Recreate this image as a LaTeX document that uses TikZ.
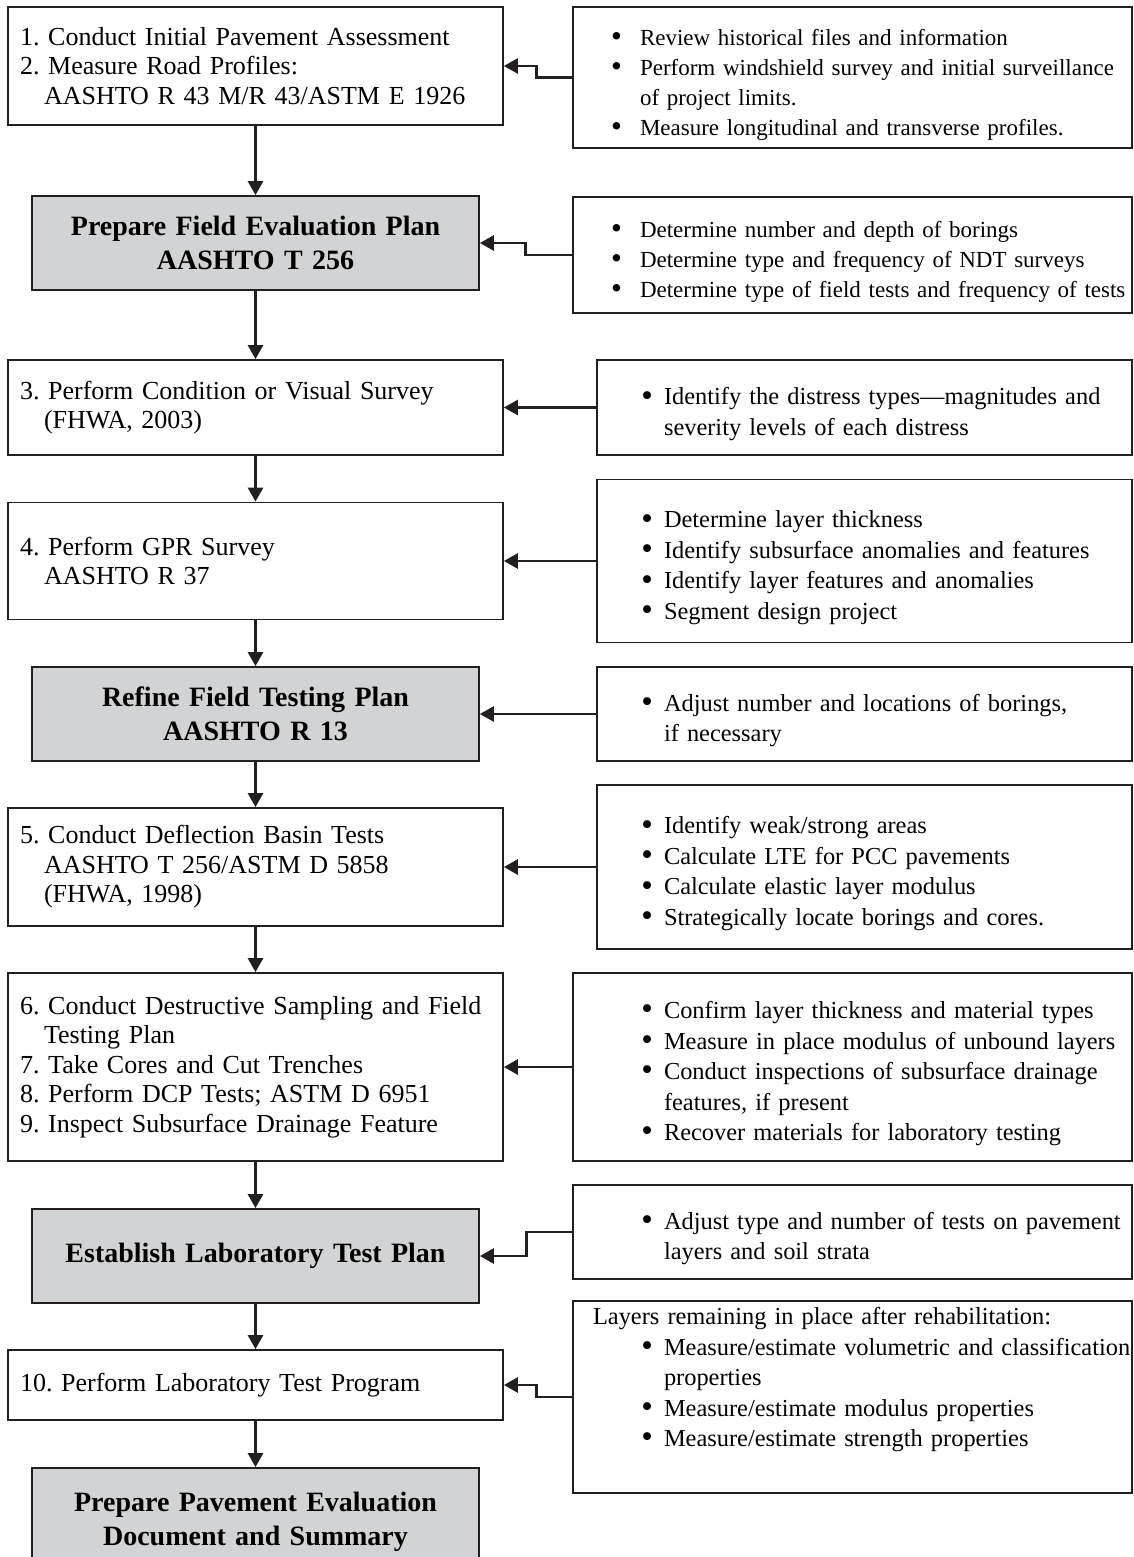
\documentclass[tikz,border=0pt]{standalone}
\usepackage{fontspec}
\usepackage{graphicx}
\setmainfont{Liberation Serif}
\usetikzlibrary{arrows.meta}
\definecolor{ink}{RGB}{35,31,32}
\definecolor{shade}{RGB}{209,211,212}
\frenchspacing

% bullet lists inside the note boxes
\newcommand{\notes}[1]{\leftskip=#1\rightskip=-16pt plus 1fil\relax}
\newcommand{\pnt}[1][5.5pt]{\par\noindent\llap{\raisebox{-0.6pt}{\scalebox{1.35}{\textbullet}}\hspace{#1}}}

\begin{document}
\begin{tikzpicture}[x=0.5pt, y=-0.5pt,
    stepbox/.style={draw=ink, line width=0.9pt, minimum width=247.5pt, text width=235.5pt, inner xsep=6pt, align=left, font=\fontsize{13pt}{14.75pt}\selectfont},
    planbox/.style={draw=ink, line width=0.9pt, fill=shade, minimum width=223.5pt, text width=211.5pt, inner xsep=6pt, align=center, font=\fontsize{14pt}{17pt}\selectfont\bfseries},
    notebox/.style={draw=ink, line width=0.9pt, inner xsep=0pt, align=left, font=\fontsize{12.2pt}{15.25pt}\selectfont},
    smallnote/.style={font=\fontsize{11.5pt}{15pt}\selectfont},
    wide/.style={minimum width=279.5pt, text width=279.5pt},
    narrow/.style={minimum width=267.5pt, text width=267.5pt},
    flow/.style={draw=ink, line width=1.4pt, -{Triangle[length=7pt,width=7.5pt]}}
  ]
  \useasboundingbox (0,0) rectangle (1134,1557);

  % Steps (left column)
  \node[stepbox, minimum height=59pt] (assess) at (255.5,66) {1. Conduct Initial Pavement Assessment\\2. Measure Road Profiles:\\\hspace*{12pt}AASHTO R 43 M/R 43/ASTM E 1926};
  \node[planbox, minimum height=47pt] (evalplan) at (255.5,243) {Prepare Field Evaluation Plan\\AASHTO T 256};
  \node[stepbox, minimum height=47.5pt] (visual) at (255.5,407.5) {3. Perform Condition or Visual Survey\\\hspace*{12pt}(FHWA, 2003)};
  \node[stepbox, minimum height=58.5pt] (gpr) at (255.5,561) {4. Perform GPR Survey\\\hspace*{12pt}AASHTO R 37};
  \node[planbox, minimum height=47pt] (refine) at (255.5,714) {Refine Field Testing Plan\\AASHTO R 13};
  \node[stepbox, minimum height=59pt] (deflect) at (255.5,867) {5. Conduct Deflection Basin Tests\\\hspace*{12pt}AASHTO T 256/ASTM D 5858\\\hspace*{12pt}(FHWA, 1998)};
  \node[stepbox, minimum height=94pt] (sampling) at (255.5,1067) {6. Conduct Destructive Sampling and Field\\\hspace*{12pt}Testing Plan\\7. Take Cores and Cut Trenches\\8. Perform DCP Tests; ASTM D 6951\\9. Inspect Subsurface Drainage Feature};
  \node[planbox, minimum height=47pt] (labplan) at (255.5,1256) {Establish Laboratory Test Plan};
  \node[stepbox, minimum height=35pt] (labtest) at (255.5,1385) {10. Perform Laboratory Test Program};
  \node[planbox, minimum height=54pt] (summary) at (255.5,1522) {Prepare Pavement Evaluation\\Document and Summary};

  % Notes (right column)
  \node[notebox, smallnote, wide, minimum height=70.5pt] (assessnote) at (852.5,77.5) {\notes{33.5pt}%
    \pnt[9pt]Review historical files and information
    \pnt[9pt]Perform windshield survey and initial surveillance\\of project limits.
    \pnt[9pt]Measure longitudinal and transverse profiles.\par};
  \node[notebox, smallnote, wide, minimum height=58pt] (evalnote) at (852.5,255) {\notes{33.5pt}%
    \pnt[9pt]Determine number and depth of borings
    \pnt[9pt]Determine type and frequency of NDT surveys
    \pnt[9pt]Determine type of field tests and frequency of tests\par};
  \node[notebox, narrow, minimum height=47.5pt] (visualnote) at (864.5,407.5) {\notes{33.5pt}%
    \pnt Identify the distress types---magnitudes and\\severity levels of each distress\par};
  \node[notebox, narrow, minimum height=81.5pt] (gprnote) at (864.5,561) {\notes{33.5pt}%
    \pnt Determine layer thickness
    \pnt Identify subsurface anomalies and features
    \pnt Identify layer features and anomalies
    \pnt Segment design project\par};
  \node[notebox, narrow, minimum height=47pt] (refinenote) at (864.5,714) {\notes{33.5pt}%
    \pnt Adjust number and locations of borings,\\if necessary\par};
  \node[notebox, narrow, minimum height=82pt] (deflectnote) at (864.5,867) {\notes{33.5pt}%
    \pnt Identify weak/strong areas
    \pnt Calculate LTE for PCC pavements
    \pnt Calculate elastic layer modulus
    \pnt Strategically locate borings and cores.\par};
  \node[notebox, wide, minimum height=94pt] (samplingnote) at (852.5,1067) {\notes{45.5pt}%
    \pnt Confirm layer thickness and material types
    \pnt Measure in place modulus of unbound layers
    \pnt Conduct inspections of subsurface drainage\\features, if present
    \pnt Recover materials for laboratory testing\par};
  \node[notebox, wide, minimum height=47pt] (labplannote) at (852.5,1232) {\notes{45.5pt}%
    \pnt Adjust type and number of tests on pavement\\layers and soil strata\par};
  \node[notebox, wide, minimum height=94pt] (labtestnote) at (852.5,1397) {\notes{10pt}%
    Layers remaining in place after rehabilitation:\par\notes{45.5pt}%
    \pnt Measure/estimate volumetric and classification\\properties
    \pnt Measure/estimate modulus properties
    \pnt Measure/estimate strength properties\par\strut\par};

  % Main flow
  \draw[flow] (assess) -- (evalplan);
  \draw[flow] (evalplan) -- (visual);
  \draw[flow] (visual) -- (gpr);
  \draw[flow] (gpr) -- (refine);
  \draw[flow] (refine) -- (deflect);
  \draw[flow] (deflect) -- (sampling);
  \draw[flow] (sampling) -- (labplan);
  \draw[flow] (labplan) -- (labtest);
  \draw[flow] (labtest) -- (summary);

  % Notes to steps
  \draw[flow] (assessnote.west) -- ++(-36,0) |- (assess.east);
  \draw[flow] (evalnote.west) -- ++(-47,0) |- (evalplan.east);
  \draw[flow] (visualnote.west) -- (visual.east);
  \draw[flow] (gprnote.west) -- (gpr.east);
  \draw[flow] (refinenote.west) -- (refine.east);
  \draw[flow] (deflectnote.west) -- (deflect.east);
  \draw[flow] (samplingnote.west) -- (sampling.east);
  \draw[flow] (labplannote.west) -- ++(-46,0) |- (labplan.east);
  \draw[flow] (labtestnote.west) -- ++(-36,0) |- (labtest.east);
\end{tikzpicture}
\end{document}
